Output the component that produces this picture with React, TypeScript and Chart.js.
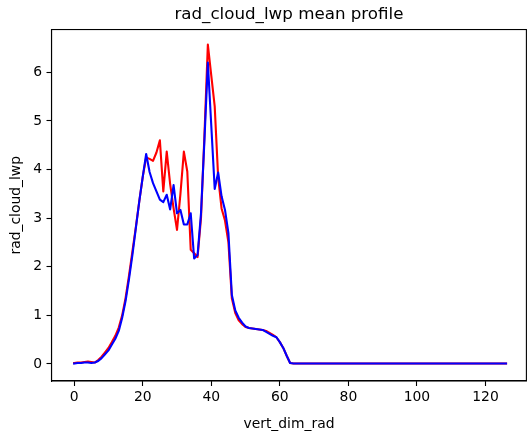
import React, { useEffect, useRef } from "react";
import { Chart, registerables } from "chart.js";

Chart.register(...registerables);

const titleText = "rad_cloud_lwp mean profile";
const xLabel = "vert_dim_rad";
const yLabel = "rad_cloud_lwp";

const xTickValues = [0, 20, 40, 60, 80, 100, 120];
const yTickValues = [0, 1, 2, 3, 4, 5, 6];

// vertical level index 0..126
const redValues = [
  0.02, 0.03, 0.03, 0.04, 0.05, 0.04, 0.03, 0.08, 0.15, 0.24,
  0.33, 0.45, 0.58, 0.75, 1.0, 1.36, 1.82, 2.32, 2.82, 3.35,
  3.85, 4.25, 4.22, 4.18, 4.35, 4.6, 3.55, 4.37, 3.7, 3.2,
  2.76, 3.5, 4.37, 3.96, 2.35, 2.28, 2.2, 3.0, 4.7, 6.57,
  5.93, 5.3, 3.85, 3.2, 2.95, 2.5, 1.35, 1.05, 0.9, 0.82,
  0.76, 0.74, 0.73, 0.72, 0.71, 0.7, 0.68, 0.64, 0.6, 0.55,
  0.45, 0.33, 0.17, 0.02, 0.01, 0.01, 0.01, 0.01, 0.01, 0.01,
  0.01, 0.01, 0.01, 0.01, 0.01, 0.01, 0.01, 0.01, 0.01, 0.01,
  0.01, 0.01, 0.01, 0.01, 0.01, 0.01, 0.01, 0.01, 0.01, 0.01,
  0.01, 0.01, 0.01, 0.01, 0.01, 0.01, 0.01, 0.01, 0.01, 0.01,
  0.01, 0.01, 0.01, 0.01, 0.01, 0.01, 0.01, 0.01, 0.01, 0.01,
  0.01, 0.01, 0.01, 0.01, 0.01, 0.01, 0.01, 0.01, 0.01, 0.01,
  0.01, 0.01, 0.01, 0.01, 0.01, 0.01, 0.01,
];

const blueValues = [
  0.01, 0.02, 0.02, 0.03, 0.03, 0.02, 0.03, 0.06, 0.12, 0.2,
  0.28, 0.4, 0.52, 0.68, 0.95, 1.3, 1.75, 2.25, 2.8, 3.35,
  3.85, 4.32, 3.95, 3.72, 3.55, 3.38, 3.33, 3.48, 3.18, 3.68,
  3.1, 3.17, 2.87, 2.87, 3.1, 2.17, 2.24, 3.1, 4.6, 6.2,
  4.9, 3.6, 3.94, 3.45, 3.17, 2.69, 1.42, 1.1, 0.95, 0.85,
  0.77, 0.74, 0.73, 0.72, 0.71, 0.7, 0.66, 0.62, 0.58, 0.55,
  0.45, 0.33, 0.17, 0.02, 0.01, 0.01, 0.01, 0.01, 0.01, 0.01,
  0.01, 0.01, 0.01, 0.01, 0.01, 0.01, 0.01, 0.01, 0.01, 0.01,
  0.01, 0.01, 0.01, 0.01, 0.01, 0.01, 0.01, 0.01, 0.01, 0.01,
  0.01, 0.01, 0.01, 0.01, 0.01, 0.01, 0.01, 0.01, 0.01, 0.01,
  0.01, 0.01, 0.01, 0.01, 0.01, 0.01, 0.01, 0.01, 0.01, 0.01,
  0.01, 0.01, 0.01, 0.01, 0.01, 0.01, 0.01, 0.01, 0.01, 0.01,
  0.01, 0.01, 0.01, 0.01, 0.01, 0.01, 0.01,
];

const FONT = "DejaVu Sans";

const framePlugin = {
  id: "frame",
  afterDraw(chart: any) {
    const { ctx, chartArea } = chart;
    const { left, top, right, bottom } = chartArea;
    ctx.save();
    ctx.strokeStyle = "#000";
    ctx.lineWidth = 1.1;
    ctx.strokeRect(left, top, right - left, bottom - top);
    ctx.restore();
  },
};

export default function App() {
  const ref = useRef<HTMLCanvasElement>(null);

  useEffect(() => {
    if (!ref.current) return;
    const toPts = (vals: number[]) => vals.map((v, i) => ({ x: i, y: v }));
    const chart = new Chart(ref.current, {
      type: "line",
      data: {
        datasets: [
          {
            label: "red",
            data: toPts(redValues),
            borderColor: "#ff0000",
            borderWidth: 2.1,
            pointRadius: 0,
            tension: 0,
            fill: false,
            borderJoinStyle: "round",
            borderCapStyle: "square",
            order: 2,
          },
          {
            label: "blue",
            data: toPts(blueValues),
            borderColor: "#0000ff",
            borderWidth: 2.1,
            pointRadius: 0,
            tension: 0,
            fill: false,
            borderJoinStyle: "round",
            borderCapStyle: "square",
            order: 1,
          },
        ],
      },
      options: {
        animation: false,
        responsive: false,
        devicePixelRatio: 1,
        layout: { padding: { left: 0, right: 2.6, top: 0, bottom: 0 } },
        plugins: {
          legend: { display: false },
          tooltip: { enabled: false },
          title: {
            display: true,
            text: titleText,
            fullSize: false,
            color: "#000",
            font: { family: FONT, size: 16.7, weight: "normal", lineHeight: 1.2 },
            padding: { top: 5, bottom: 4.5 },
          },
        },
        scales: {
          x: {
            type: "linear",
            min: -6.62,
            max: 131.94,
            afterBuildTicks: (s: any) => {
              s.ticks = xTickValues.map((v) => ({ value: v }));
            },
            afterFit: (s: any) => {
              s.height = 57;
            },
            grid: {
              display: true,
              drawOnChartArea: false,
              drawTicks: true,
              tickLength: 5,
              tickWidth: 1.1,
              tickColor: "#000",
            },
            border: { display: true, color: "#000", width: 1.1 },
            ticks: {
              color: "#000",
              font: { family: FONT, size: 13.9 },
              padding: 3,
              maxRotation: 0,
              autoSkip: false,
            },
            title: {
              display: true,
              text: xLabel,
              color: "#000",
              font: { family: FONT, size: 13.9 },
              padding: { top: 0, bottom: 5 },
            },
          },
          y: {
            type: "linear",
            min: -0.35,
            max: 6.88,
            afterBuildTicks: (s: any) => {
              s.ticks = yTickValues.map((v) => ({ value: v }));
            },
            afterFit: (s: any) => {
              s.width = 51.5;
            },
            grid: {
              display: true,
              drawOnChartArea: false,
              drawTicks: true,
              tickLength: 5,
              tickWidth: 1.1,
              tickColor: "#000",
            },
            border: { display: true, color: "#000", width: 1.1 },
            ticks: {
              color: "#000",
              font: { family: FONT, size: 13.9 },
              padding: 4.5,
              autoSkip: false,
            },
            title: {
              display: true,
              text: yLabel,
              color: "#000",
              font: { family: FONT, size: 13.9 },
              padding: { top: 8.4, bottom: 0 },
            },
          },
        },
      },
      plugins: [framePlugin],
    } as any);
    return () => chart.destroy();
  }, []);

  return (
    <div style={{ position: "absolute", left: 0, top: 0, width: 529, height: 438, background: "#fff" }}>
      <canvas ref={ref} width={529} height={438} />
    </div>
  );
}
